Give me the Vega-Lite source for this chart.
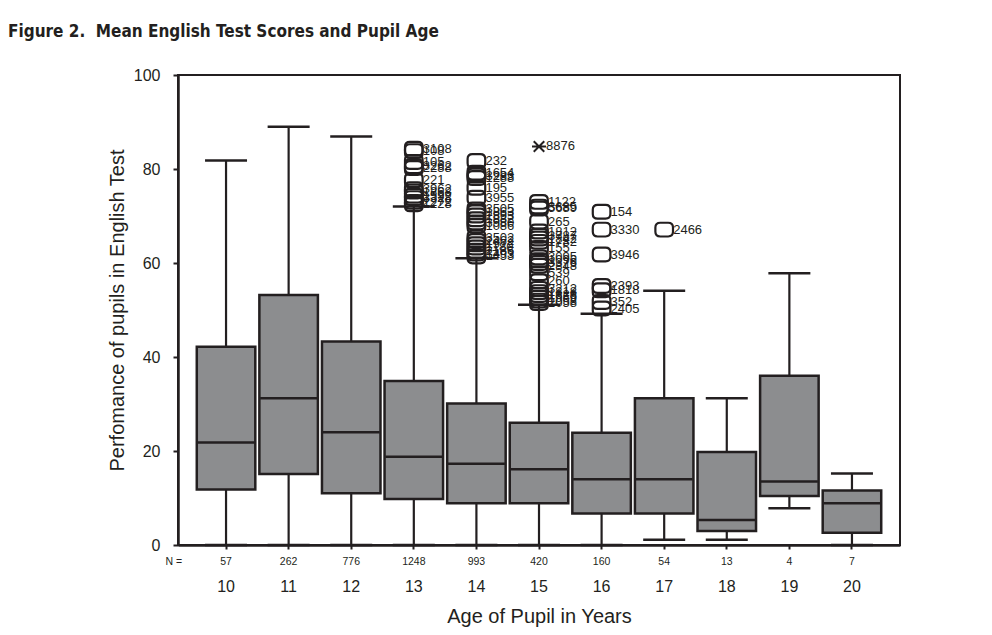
{
  "$schema": "https://vega.github.io/schema/vega-lite/v6.json",
  "autosize": {"type": "none"},
  "width": 722,
  "height": 470,
  "padding": {"left": 178, "top": 75, "right": 92, "bottom": 90},
  "background": "white",
  "title": {
    "text": "Figure 2.\u00a0 Mean English Test Scores and Pupil Age",
    "anchor": "start",
    "frame": "group",
    "dx": -170,
    "offset": 26,
    "font": "DejaVu Sans Condensed, Liberation Sans Narrow, sans-serif",
    "fontSize": 17,
    "fontWeight": "bold",
    "color": "#231f20"
  },
  "config": {
    "view": {"stroke": "#231f20", "strokeWidth": 2},
    "font": "Liberation Sans",
    "axis": {
      "labelFont": "Liberation Sans",
      "titleFont": "Liberation Sans",
      "labelColor": "#231f20",
      "titleColor": "#231f20",
      "tickColor": "#231f20",
      "domainColor": "#231f20",
      "grid": false
    },
    "axisY": {
      "labelFontSize": 16,
      "labelPadding": 13,
      "tickSize": 5,
      "tickWidth": 2,
      "domainWidth": 2.5,
      "titleFontSize": 20,
      "titleFontWeight": "normal",
      "titlePadding": 6,
      "tickCount": 5
    }
  },
  "datasets": {
    "boxes": [
      {"age": 10, "q1": 11.8, "med": 21.8, "q3": 42.2, "lo": 0, "hi": 81.8, "n": 57},
      {"age": 11, "q1": 15.1, "med": 31.2, "q3": 53.2, "lo": 0, "hi": 89.0, "n": 262},
      {"age": 12, "q1": 11.0, "med": 24.0, "q3": 43.3, "lo": 0, "hi": 86.9, "n": 776},
      {"age": 13, "q1": 9.8, "med": 18.8, "q3": 34.9, "lo": 0, "hi": 72.0, "n": 1248},
      {"age": 14, "q1": 8.9, "med": 17.3, "q3": 30.1, "lo": 0, "hi": 61.0, "n": 993},
      {"age": 15, "q1": 8.9, "med": 16.1, "q3": 26.0, "lo": 0, "hi": 51.1, "n": 420},
      {"age": 16, "q1": 6.7, "med": 14.0, "q3": 23.9, "lo": 0, "hi": 49.2, "n": 160},
      {"age": 17, "q1": 6.7, "med": 14.0, "q3": 31.2, "lo": 1.1, "hi": 54.1, "n": 54},
      {"age": 18, "q1": 3.0, "med": 5.3, "q3": 19.8, "lo": 1.1, "hi": 31.2, "n": 13},
      {"age": 19, "q1": 10.4, "med": 13.5, "q3": 36.0, "lo": 7.8, "hi": 57.8, "n": 4},
      {"age": 20, "q1": 2.6, "med": 8.9, "q3": 11.6, "lo": 0, "hi": 15.2, "n": 7}
    ],
    "outliers": [
      {"age": 13, "v": 84.3, "id": "3108"},
      {"age": 13, "v": 83.8, "id": "108"},
      {"age": 13, "v": 81.5, "id": "105"},
      {"age": 13, "v": 80.6, "id": "3262"},
      {"age": 13, "v": 80.2, "id": "2288"},
      {"age": 13, "v": 77.6, "id": "221"},
      {"age": 13, "v": 75.7, "id": "3962"},
      {"age": 13, "v": 75.2, "id": "1868"},
      {"age": 13, "v": 74.3, "id": "1592"},
      {"age": 13, "v": 73.8, "id": "3328"},
      {"age": 13, "v": 73.0, "id": "2272"},
      {"age": 13, "v": 72.5, "id": "1228"},
      {"age": 14, "v": 81.7, "id": "232"},
      {"age": 14, "v": 79.2, "id": "1654"},
      {"age": 14, "v": 78.6, "id": "3283"},
      {"age": 14, "v": 78.1, "id": "1288"},
      {"age": 14, "v": 76.0, "id": "195"},
      {"age": 14, "v": 73.9, "id": "3955"},
      {"age": 14, "v": 71.4, "id": "3505"},
      {"age": 14, "v": 70.8, "id": "1863"},
      {"age": 14, "v": 70.1, "id": "2893"},
      {"age": 14, "v": 69.3, "id": "1882"},
      {"age": 14, "v": 68.6, "id": "3980"},
      {"age": 14, "v": 67.9, "id": "1086"},
      {"age": 14, "v": 65.4, "id": "3502"},
      {"age": 14, "v": 64.7, "id": "2462"},
      {"age": 14, "v": 64.0, "id": "1972"},
      {"age": 14, "v": 63.3, "id": "1180"},
      {"age": 14, "v": 62.6, "id": "2186"},
      {"age": 14, "v": 62.0, "id": "3493"},
      {"age": 14, "v": 61.4, "id": "1453"},
      {"age": 15, "v": 73.0, "id": "1122"},
      {"age": 15, "v": 72.0, "id": "3685"},
      {"age": 15, "v": 71.6, "id": "5689"},
      {"age": 15, "v": 68.8, "id": "265"},
      {"age": 15, "v": 66.7, "id": "1812"},
      {"age": 15, "v": 65.8, "id": "3787"},
      {"age": 15, "v": 65.2, "id": "1842"},
      {"age": 15, "v": 64.5, "id": "1782"},
      {"age": 15, "v": 63.2, "id": "155"},
      {"age": 15, "v": 61.2, "id": "3095"},
      {"age": 15, "v": 60.6, "id": "1096"},
      {"age": 15, "v": 60.0, "id": "3376"},
      {"age": 15, "v": 59.4, "id": "2848"},
      {"age": 15, "v": 57.8, "id": "539"},
      {"age": 15, "v": 56.1, "id": "260"},
      {"age": 15, "v": 54.5, "id": "3212"},
      {"age": 15, "v": 53.8, "id": "1818"},
      {"age": 15, "v": 53.2, "id": "1828"},
      {"age": 15, "v": 52.6, "id": "1959"},
      {"age": 15, "v": 52.0, "id": "1058"},
      {"age": 15, "v": 51.5, "id": "2058"},
      {"age": 16, "v": 70.9, "id": "154"},
      {"age": 16, "v": 67.1, "id": "3330"},
      {"age": 16, "v": 61.8, "id": "3946"},
      {"age": 16, "v": 55.1, "id": "2393"},
      {"age": 16, "v": 54.2, "id": "1818"},
      {"age": 16, "v": 51.7, "id": "352"},
      {"age": 16, "v": 50.3, "id": "2405"},
      {"age": 17, "v": 67.1, "id": "2466"}
    ],
    "extremes": [
      {"age": 15, "v": 84.8, "id": "8876"}
    ],
    "nlabel": [
      {"age": 10, "label": "N ="}
    ]
  },
  "encoding": {
    "x": {
      "field": "age",
      "type": "ordinal",
      "scale": {"type": "band", "paddingInner": 0.065, "paddingOuter": 0.3},
      "axis": {
        "title": "Age of Pupil in Years",
        "labelAngle": 0,
        "labelFontSize": 16,
        "labelPadding": 29,
        "tickSize": 4,
        "tickWidth": 2,
        "domainWidth": 2.5,
        "titleFontSize": 20,
        "titleFontWeight": "normal",
        "titlePadding": 12
      }
    }
  },
  "layer": [
    {
      "data": {"name": "boxes"},
      "mark": {"type": "rule", "color": "#231f20", "strokeWidth": 2.2},
      "encoding": {
        "y": {
          "field": "lo",
          "type": "quantitative",
          "title": "Perfomance of pupils in English Test",
          "scale": {"domain": [0, 100], "nice": false}
        },
        "y2": {"field": "q1"}
      }
    },
    {
      "data": {"name": "boxes"},
      "mark": {"type": "rule", "color": "#231f20", "strokeWidth": 2.2},
      "encoding": {
        "y": {"field": "q3", "type": "quantitative", "title": "Perfomance of pupils in English Test"},
        "y2": {"field": "hi"}
      }
    },
    {
      "data": {"name": "boxes"},
      "mark": {"type": "tick", "color": "#231f20", "size": 42, "thickness": 2.5, "opacity": 1},
      "encoding": {
        "y": {"field": "hi", "type": "quantitative", "title": "Perfomance of pupils in English Test"}
      }
    },
    {
      "data": {"name": "boxes"},
      "mark": {"type": "tick", "color": "#231f20", "size": 42, "thickness": 2.5, "opacity": 1},
      "encoding": {
        "y": {"field": "lo", "type": "quantitative", "title": "Perfomance of pupils in English Test"}
      }
    },
    {
      "data": {"name": "boxes"},
      "mark": {"type": "bar", "fill": "#8c8d8f", "stroke": "#231f20", "strokeWidth": 2.5, "opacity": 1},
      "encoding": {
        "y": {"field": "q1", "type": "quantitative", "title": "Perfomance of pupils in English Test"},
        "y2": {"field": "q3"}
      }
    },
    {
      "data": {"name": "boxes"},
      "mark": {"type": "tick", "color": "#231f20", "size": 57, "thickness": 2.5, "opacity": 1},
      "encoding": {
        "y": {"field": "med", "type": "quantitative", "title": "Perfomance of pupils in English Test"}
      }
    },
    {
      "data": {"name": "boxes"},
      "mark": {"type": "text", "fontSize": 10.5, "dy": 17, "baseline": "middle", "align": "center", "color": "#231f20"},
      "encoding": {
        "y": {"datum": 0, "type": "quantitative", "title": "Perfomance of pupils in English Test"},
        "text": {"field": "n"}
      }
    },
    {
      "data": {"name": "nlabel"},
      "mark": {"type": "text", "fontSize": 10.5, "dy": 17, "dx": -44, "baseline": "middle", "align": "right", "color": "#231f20"},
      "encoding": {
        "y": {"datum": 0, "type": "quantitative", "title": "Perfomance of pupils in English Test"},
        "text": {"field": "label"}
      }
    },
    {
      "data": {"name": "outliers"},
      "mark": {
        "type": "point",
        "shape": "M-0.45,-0.78L0.45,-0.78Q1,-0.78 1,-0.25L1,0.25Q1,0.78 0.45,0.78L-0.45,0.78Q-1,0.78 -1,0.25L-1,-0.25Q-1,-0.78 -0.45,-0.78Z",
        "size": 310,
        "filled": false,
        "stroke": "#231f20",
        "strokeWidth": 2.2,
        "opacity": 1
      },
      "encoding": {
        "y": {"field": "v", "type": "quantitative", "title": "Perfomance of pupils in English Test"}
      }
    },
    {
      "data": {"name": "outliers"},
      "mark": {"type": "text", "fontSize": 13, "dx": 9, "align": "left", "baseline": "middle", "color": "#231f20"},
      "encoding": {
        "y": {"field": "v", "type": "quantitative", "title": "Perfomance of pupils in English Test"},
        "text": {"field": "id"}
      }
    },
    {
      "data": {"name": "extremes"},
      "mark": {
        "type": "point",
        "shape": "M-1,0L1,0M-0.75,-0.75L0.75,0.75M-0.75,0.75L0.75,-0.75",
        "size": 196,
        "filled": false,
        "stroke": "#231f20",
        "strokeWidth": 2,
        "opacity": 1
      },
      "encoding": {
        "y": {"field": "v", "type": "quantitative", "title": "Perfomance of pupils in English Test"}
      }
    },
    {
      "data": {"name": "extremes"},
      "mark": {"type": "text", "fontSize": 13, "dx": 7, "align": "left", "baseline": "middle", "color": "#231f20"},
      "encoding": {
        "y": {"field": "v", "type": "quantitative", "title": "Perfomance of pupils in English Test"},
        "text": {"field": "id"}
      }
    }
  ]
}
